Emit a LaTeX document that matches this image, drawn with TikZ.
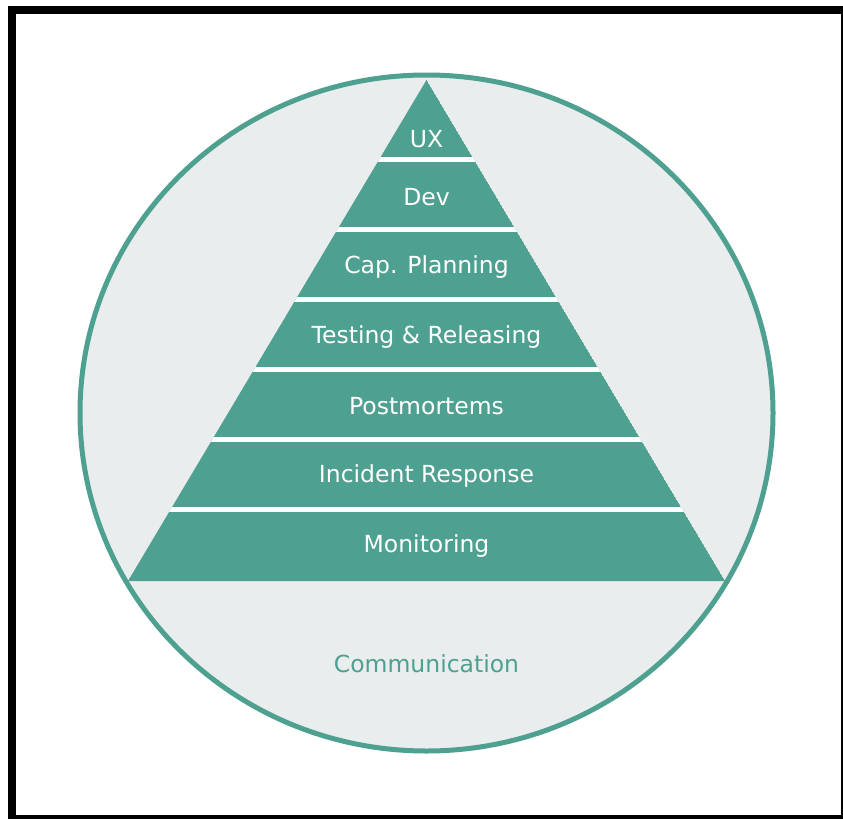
\documentclass[tikz,border=0pt]{standalone}
\usepackage{fontspec}
\setmainfont{DejaVu Sans}
\definecolor{teal}{RGB}{78,160,144}
\definecolor{bgfill}{RGB}{233,237,237}
\begin{document}
\begin{tikzpicture}[x=1pt,y=-1pt,
  lbl/.style={text=white,font=\fontsize{23.5}{26}\selectfont,inner sep=0pt,anchor=center},
  gapbar/.style={fill=white,draw=none}]
\useasboundingbox (0,0) rectangle (843,819);
\fill[white] (0,0) rectangle (843,819);
% frame
\fill[black] (8,6) rectangle (843,14);
\fill[black] (8,6) rectangle (16,819);
\fill[black] (841,6) rectangle (843,819);
\fill[black] (8,815) rectangle (843,819);
% circle
\draw[teal,fill=bgfill,line width=5pt] (426.5,413) ellipse [x radius=346.5,y radius=338];
% pyramid
\coordinate (apex) at (426.5,80);
\coordinate (bl) at (128,581);
\coordinate (br) at (725,581);
\begin{scope}
  \clip (apex) -- (bl) -- (br) -- cycle;
  \fill[teal] (apex) -- (bl) -- (br) -- cycle;
  \foreach \g in {157,227,297,367,437,507}{
    \fill[gapbar] (100,\g) rectangle (760,\g+5);
  }
\end{scope}
\node[lbl] (ux) at (426.5,139) {UX};
\node[lbl] (dev) at (426.5,197) {Dev};
\node[lbl] (cap) at (426.5,267) {Cap. Planning};
\node[lbl] (test) at (426.5,337) {Testing \& Releasing};
\node[lbl] (post) at (426.5,406) {Postmortems};
\node[lbl] (inc) at (426.5,476) {Incident Response};
\node[lbl] (mon) at (426.5,546) {Monitoring};
\node[lbl,text=teal] (comm) at (426.5,664) {Communication};
\end{tikzpicture}
\end{document}
